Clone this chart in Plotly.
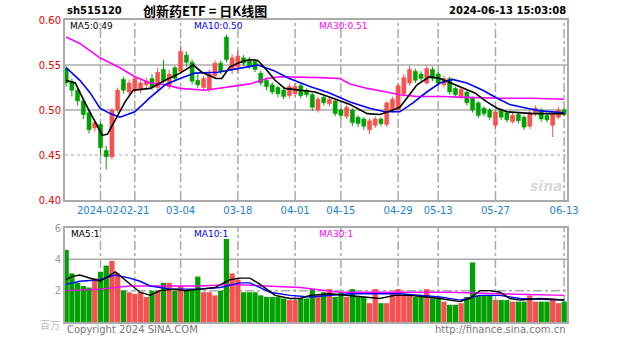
import plotly.graph_objects as go

# ---- daily candles (trading-day index 0 = 2024-01-26) ----
opens = [.546, .531, .522, .510, .497, .480, .484, .455, .448, .500,
         .534, .520, .522, .522, .528, .535, .525, .545, .526, .547,
         .543, .561, .553, .533, .525, .523, .538, .552, .581, .545,
         .548, .558, .556, .554, .541, .533, .528, .525, .522, .516,
         .518, .527, .522, .517, .500, .514, .507, .510, .500, .493,
         .500, .492, .490, .478, .483, .490, .484, .500, .500, .518,
         .530, .543, .540, .530, .545, .540, .528, .535, .524, .515,
         .520, .513, .508, .502, .500, .483, .500, .497, .487, .495,
         .492, .482, .496, .500, .494, .483, .492, .500]
closes = [.530, .522, .510, .495, .478, .486, .458, .448, .500, .522,
          .522, .530, .535, .530, .532, .525, .542, .532, .540, .535,
          .565, .553, .532, .528, .535, .540, .552, .543, .556, .558,
          .560, .552, .549, .545, .530, .526, .520, .518, .515, .526,
          .526, .516, .517, .503, .512, .508, .512, .496, .494, .503,
          .486, .485, .482, .488, .490, .485, .508, .512, .527, .536,
          .545, .533, .535, .546, .535, .530, .535, .520, .517, .523,
          .508, .500, .494, .496, .492, .498, .492, .489, .494, .488,
          .481, .497, .502, .490, .489, .495, .500, .495]
highs = [.549, .535, .526, .513, .500, .490, .486, .460, .502, .525,
         .537, .534, .538, .533, .536, .540, .547, .556, .545, .549,
         .572, .565, .556, .540, .538, .545, .555, .555, .584, .562,
         .566, .561, .559, .557, .544, .536, .531, .527, .525, .529,
         .530, .530, .524, .519, .515, .517, .515, .512, .502, .506,
         .502, .494, .492, .491, .493, .492, .510, .515, .530, .540,
         .549, .546, .543, .549, .548, .542, .538, .537, .526, .526,
         .522, .515, .510, .504, .502, .500, .502, .499, .497, .497,
         .494, .499, .505, .502, .496, .497, .503, .502]
lows = [.526, .515, .505, .490, .474, .476, .450, .434, .445, .497,
        .518, .517, .518, .519, .524, .522, .522, .530, .523, .532,
        .540, .548, .528, .524, .521, .520, .535, .540, .553, .540,
        .541, .549, .546, .542, .527, .522, .517, .514, .512, .513,
        .515, .513, .514, .499, .497, .505, .504, .493, .490, .490,
        .482, .481, .478, .473, .480, .482, .481, .497, .497, .515,
        .527, .530, .532, .528, .532, .527, .525, .517, .514, .512,
        .505, .497, .491, .493, .489, .478, .489, .486, .485, .485,
        .478, .479, .493, .487, .486, .470, .490, .493]
volumes = [4.6, 3.1, 2.5, 2.3, 2.2, 2.8, 3.2, 3.6, 3.9, 3.1,
           2.0, 1.9, 1.8, 1.9, 1.6, 2.0, 2.0, 2.5, 2.5, 2.0,
           2.3, 2.0, 2.0, 2.9, 1.9, 1.9, 1.7, 2.0, 5.3, 3.1,
           2.7, 1.9, 1.9, 1.9, 1.7, 1.6, 1.6, 1.6, 1.5, 1.4,
           1.4, 1.5, 1.5, 2.1, 1.7, 1.9, 2.1, 1.6, 1.9, 1.6,
           2.1, 1.6, 1.6, 1.2, 2.1, 1.2, 1.2, 1.9, 2.1, 1.7,
           1.7, 1.6, 1.6, 2.1, 1.5, 1.5, 1.3, 1.1, 1.1, 1.2,
           1.6, 3.8, 1.7, 1.7, 1.7, 1.4, 1.4, 1.4, 1.3, 1.3,
           1.3, 1.7, 1.3, 1.3, 1.3, 1.5, 1.2, 1.3]

# ---- moving averages of price (index, value) ----
ma5_x = [0, 1.6, 3.3, 5.1, 6.3, 7.2, 8.6, 10.3, 11.7, 14.7, 17.3, 19.9, 22.2,
         23.7, 26.2, 27.2, 28.6, 30.4, 32.1, 33.5, 35.1, 36.5, 38.2, 40.9, 43.5,
         46.6, 49.6, 52.6, 54.8, 57.1, 58.3, 59.5, 61.3, 63.5, 65.3, 66.5, 68.8,
         71.4, 73.5, 75.3, 77, 78.8, 81.5, 87]
ma5_y = [.533, .530, .508, .486, .472, .473, .489, .509, .522, .524, .533, .541,
         .550, .542, .535, .535, .548, .553, .556, .555, .544, .533, .524, .522,
         .520, .513, .506, .496, .495, .500, .503, .513, .528, .537, .535, .532,
         .526, .519, .509, .502, .498, .497, .496, .496]
ma10_x = [0, 2.4, 4.2, 5.9, 7.7, 9.4, 12, 14.7, 17.3, 19.9, 22.5, 26.5, 30,
          33.5, 36.2, 39, 42.6, 46, 49.6, 53, 55.7, 58.3, 60.6, 63, 65.3, 67.5,
          70, 72.8, 75.3, 77.5, 80.5, 82.8, 87]
ma10_y = [.547, .533, .519, .502, .496, .492, .498, .514, .528, .535, .541,
          .542, .546, .550, .544, .535, .526, .519, .509, .502, .498, .498,
          .508, .520, .530, .534, .530, .522, .513, .506, .502, .499, .497]
ma30_x = [0, 2.4, 5.9, 9.4, 12, 14.7, 17.3, 19.9, 24.3, 29.2, 32.1, 35.1, 37.4,
          44.4, 47.8, 49.6, 52.6, 56, 58.3, 61.3, 65.8, 70, 75.8, 81.5, 87]
ma30_y = [.581, .574, .558, .547, .537, .530, .528, .524, .522, .526, .529,
          .535, .537, .536, .535, .529, .524, .520, .517, .515, .515, .514,
          .513, .513, .512]

# ---- moving averages of volume ----
vma5_x = [0, 1, 2.4, 4.2, 5.9, 8.6, 10.3, 12.9, 14.7, 16.4, 19, 20.8, 23.4, 26,
          28.6, 30.4, 32.1, 33.9, 36.5, 39.1, 40.9, 42.6, 46.1, 48.7, 51.3,
          54.8, 57.4, 60, 65.3, 67, 68.8, 70.5, 72.3, 74, 75.8, 77.5, 79.3,
          82.8, 87]
vma5_y = [2.7, 2.9, 3.0, 2.8, 2.6, 3.2, 2.7, 1.9, 1.7, 2.0, 2.1, 2.0, 2.1, 2.2,
          2.7, 2.8, 2.8, 2.4, 1.7, 1.5, 1.5, 1.7, 1.8, 1.7, 1.6, 1.5, 1.7, 1.7,
          1.5, 1.4, 1.3, 1.5, 2.0, 2.0, 1.9, 1.5, 1.4, 1.5, 1.4]
vma10_x = [0, 2.4, 5.9, 8.6, 11.1, 12.9, 14.7, 18.2, 23.4, 26.9, 30.4, 32.1,
           35.6, 39.1, 42.6, 49.6, 58.3, 65.3, 68.8, 72.3, 75.8, 79.3, 87]
vma10_y = [2.4, 2.6, 2.7, 3.0, 2.8, 2.6, 2.3, 2.1, 2.1, 2.2, 2.5, 2.5, 1.9,
           1.7, 1.6, 1.8, 1.8, 1.6, 1.4, 1.7, 1.7, 1.5, 1.4]
vma30_x = [0, 5.9, 11.1, 14.7, 19.9, 23.4, 28.6, 33.9, 40.9, 47.8, 58.3, 67,
           75.8, 87]
vma30_y = [2.0, 2.1, 2.3, 2.3, 2.3, 2.3, 2.4, 2.3, 2.2, 1.9, 1.9, 1.9, 1.8, 1.7]

# ---- axis labels ----
date_ticks = [6, 12, 20, 30, 40, 48, 58, 65, 75, 87]
date_labels = ["2024-02-", "02-21", "03-04", "03-18", "04-01", "04-15",
               "04-29", "05-13", "05-27", "06-13"]
price_ticks = [0.40, 0.45, 0.50, 0.55, 0.60]
price_labels = ["0.40", "0.45", "0.50", "0.55", "0.60"]
vol_ticks = [2, 4, 6]
vol_labels = ["2", "4", "6"]

RED = "#F85050"
GREEN = "#00A000"
GRID = "#AAAAAA"
FONT = "DejaVu Sans"

idx = list(range(len(opens)))
is_up = [c >= o for o, c in zip(opens, closes)]
colors = [RED if u else GREEN for u in is_up]

fig = go.Figure()

# candle wicks, one trace per colour
for up, col in [(True, RED), (False, GREEN)]:
    wx, wy = [], []
    for i in idx:
        if is_up[i] == up:
            wx += [i, i, None]
            wy += [lows[i], highs[i], None]
    fig.add_trace(go.Scatter(x=wx, y=wy, mode="lines", line=dict(color=col, width=1),
                             xaxis="x", yaxis="y", showlegend=False, hoverinfo="skip"))

# candle bodies
fig.add_trace(go.Bar(
    x=idx, base=[min(o, c) for o, c in zip(opens, closes)],
    y=[abs(c - o) for o, c in zip(opens, closes)], width=0.72,
    marker=dict(color=colors, line=dict(color=colors, width=0.5)),
    xaxis="x", yaxis="y", showlegend=False, hoverinfo="skip"))

for xs, ys, col in [(ma30_x, ma30_y, "#FF00FF"), (ma10_x, ma10_y, "#0000FF"),
                    (ma5_x, ma5_y, "#000000")]:
    fig.add_trace(go.Scatter(x=xs, y=ys, mode="lines", line=dict(color=col, width=1.6),
                             xaxis="x", yaxis="y", showlegend=False, hoverinfo="skip"))

fig.add_trace(go.Bar(x=idx, y=volumes, width=0.92,
                     marker=dict(color=colors, line=dict(width=0)),
                     xaxis="x2", yaxis="y2", showlegend=False, hoverinfo="skip"))
for xs, ys, col in [(vma30_x, vma30_y, "#FF00FF"), (vma10_x, vma10_y, "#0000FF"),
                    (vma5_x, vma5_y, "#000000")]:
    fig.add_trace(go.Scatter(x=xs, y=ys, mode="lines", line=dict(color=col, width=1.4),
                             xaxis="x2", yaxis="y2", showlegend=False, hoverinfo="skip"))

# page geometry (pixels)
W, H = 627, 342
L, R, T, B = 65, 60, 20, 20
PW, PH = W - L - R, H - T - B


def px(x):
    return (x - L) / PW


def py(y):
    return (H - B - y) / PH


main_dom = [py(200), 1.0]
vol_dom = [0.0, py(228)]
xr = [-0.2, 87.5]

frame = dict(showline=True, linecolor=GRID, linewidth=2, mirror=True,
             showgrid=False, zeroline=False)
fig.update_layout(
    width=W, height=H, margin=dict(l=L, r=R, t=T, b=B),
    paper_bgcolor="white", plot_bgcolor="white", barmode="overlay",
    font=dict(family=FONT, size=10),
    xaxis=dict(domain=[0, 1], range=xr, anchor="y", tickmode="array",
               tickvals=date_ticks[1:], ticktext=date_labels[1:], tickangle=0,
               tickfont=dict(color="#1a7fd4", size=10, family=FONT),
               ticks="", **frame),
    yaxis=dict(domain=main_dom, range=[0.40, 0.60], anchor="x", tickmode="array",
               tickvals=price_ticks, ticktext=price_labels,
               tickfont=dict(color="#EE0000", size=10, family=FONT), ticks="", **frame),
    xaxis2=dict(domain=[0, 1], range=xr, anchor="y2", matches="x",
                showticklabels=False, ticks="", **frame),
    yaxis2=dict(domain=vol_dom, range=[0, 6], anchor="x2", tickmode="array",
                tickvals=vol_ticks, ticktext=vol_labels,
                tickfont=dict(color="#999999", size=10, family=FONT), ticks="", **frame),
)

shapes = []
# horizontal guides in the price panel
for v, dash in [(0.55, "solid"), (0.50, "solid"), (0.45, "dot")]:
    shapes.append(dict(type="line", xref="x domain", yref="y", x0=0, x1=1, y0=v, y1=v,
                       line=dict(color=GRID, width=1.5 if dash == "solid" else 1, dash=dash),
                       layer="below"))
# horizontal guides in the volume panel
for v, dash in [(4, "solid"), (2, "dashdot")]:
    shapes.append(dict(type="line", xref="x2 domain", yref="y2", x0=0, x1=1, y0=v, y1=v,
                       line=dict(color=GRID, width=1.5, dash=dash), layer="below"))
# vertical date guides
for t in date_ticks:
    for xa, ya in [("x", "y domain"), ("x2", "y2 domain")]:
        shapes.append(dict(type="line", xref=xa, yref=ya, x0=t, x1=t, y0=0, y1=1,
                           line=dict(color=GRID, width=1.5, dash="dashdot"), layer="below"))
fig.update_layout(shapes=shapes)

ann = []


def text(x, y, s, color="#000000", size=10, anchor="left", bold=False, family=FONT):
    ann.append(dict(x=px(x), y=py(y), xref="paper", yref="paper", text=f"<b>{s}</b>" if bold else s,
                    showarrow=False, xanchor=anchor, yanchor="middle",
                    font=dict(color=color, size=size, family=family)))


# first date label, kept clear of "02-21"
ann.append(dict(x=date_ticks[0], y=0, xref="x", yref="y domain", text=date_labels[0],
                showarrow=False, xanchor="center", yanchor="top", yshift=-3,
                font=dict(color="#1a7fd4", size=10, family=FONT)))
text(65, 10, "sh515120", bold=True)
text(205, 10, "创新药ETF = 日K线图", size=13, anchor="center", bold=True,
     family="Noto Sans CJK SC")
text(568, 10, "2024-06-13 15:03:08", anchor="right", bold=True)
text(68, 26, "MA5:0.49", color="#000000", size=9)
text(192, 26, "MA10:0.50", color="#0000FF", size=9)
text(317, 26, "MA30:0.51", color="#FF00FF", size=9)
text(69, 234, "MA5:1", color="#000000", size=9)
text(192, 234, "MA10:1", color="#0000FF", size=9)
text(317, 234, "MA30:1", color="#FF00FF", size=9)
text(62, 324, "百万", color="#BBBBBB", size=10, anchor="right", family="Noto Sans CJK SC")
text(65, 329, "Copyright 2024 SINA.COM", color="#777777", size=10)
text(568, 329, "http://finance.sina.com.cn", color="#777777", size=10, anchor="right")
text(565, 186, "<i>sina</i>", color="rgba(200,200,200,0.7)", size=14, anchor="right", bold=True)
fig.update_layout(annotations=ann)

fig.write_html("out.html")
